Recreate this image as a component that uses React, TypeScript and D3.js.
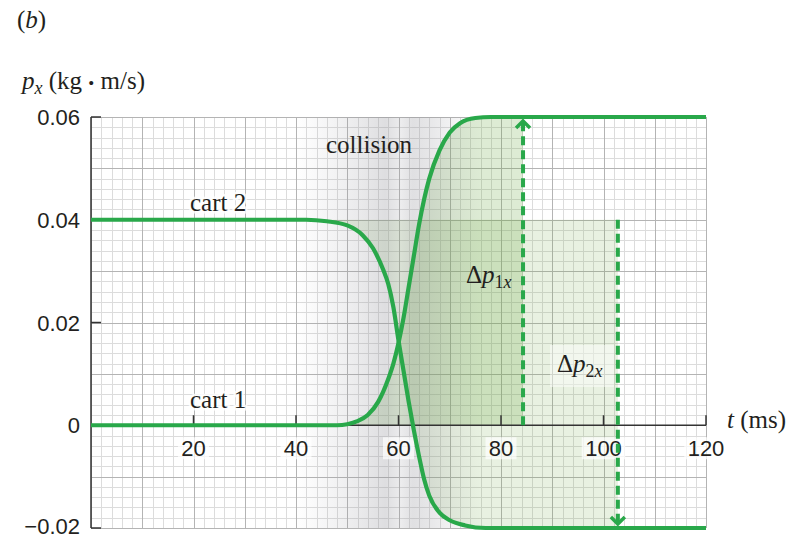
import React from 'react';
import * as d3 from 'd3';

// Axis ticks and labels
const timeTicks = [20, 40, 60, 80, 100, 120];
const timeTickLabels = ['20', '40', '60', '80', '100', '120'];
const momentumTicks = [-0.02, 0, 0.02, 0.04, 0.06];
const momentumTickLabels = ['\u22120.02', '0', '0.02', '0.04', '0.06'];

// Cart 1: momentum (kg·m/s) vs time (ms)
const cart1Time = [0, 48, 50, 52, 54, 56, 57, 58, 59, 60, 61, 62, 63, 64, 65, 66, 68, 70, 72, 75, 78, 120];
const cart1Momentum = [0, 0, 0.0002, 0.0008, 0.002, 0.0045, 0.0065, 0.009, 0.012, 0.016, 0.021, 0.027, 0.033, 0.039, 0.044, 0.048, 0.0535, 0.057, 0.0588, 0.0598, 0.06, 0.06];

// Cart 2: momentum (kg·m/s) vs time (ms)
const cart2Time = [0, 42, 46, 50, 53, 55, 57, 58, 59, 60, 61, 62, 63, 64, 65, 66, 68, 70, 73, 77, 120];
const cart2Momentum = [0.04, 0.04, 0.0397, 0.0389, 0.037, 0.0345, 0.0303, 0.0275, 0.023, 0.0165, 0.0105, 0.0045, -0.001, -0.006, -0.0105, -0.0137, -0.017, -0.0185, -0.0195, -0.02, -0.02];

// Momentum changes and where they are marked
const deltaP1Time = 84.3;
const deltaP1From = 0;
const deltaP1To = 0.06;
const deltaP2Time = 102.8;
const deltaP2From = 0.04;
const deltaP2To = -0.02;

const GREEN = '#29a84a';
const INK = '#231f20';
const SERIF = '"Liberation Serif", "DejaVu Serif", serif';
const SANS = '"Liberation Sans", Arial, sans-serif';

export default function App() {
  const width = 804;
  const height = 539;
  const x = d3.scaleLinear().domain([0, 120]).range([91, 706]);
  const y = d3.scaleLinear().domain([-0.02, 0.06]).range([528, 117]);

  const cart1 = cart1Time.map((t, i) => [t, cart1Momentum[i]] as [number, number]);
  const cart2 = cart2Time.map((t, i) => [t, cart2Momentum[i]] as [number, number]);

  const line = d3
    .line<[number, number]>()
    .x((d) => x(d[0]))
    .y((d) => y(d[1]))
    .curve(d3.curveMonotoneX);

  const area1 = d3
    .area<[number, number]>()
    .x((d) => x(d[0]))
    .y0(y(0))
    .y1((d) => y(d[1]))
    .curve(d3.curveMonotoneX);

  const area2 = d3
    .area<[number, number]>()
    .x((d) => x(d[0]))
    .y0(y(0.04))
    .y1((d) => y(d[1]))
    .curve(d3.curveMonotoneX);

  const minorT = d3.range(0, 120.001, 2);
  const majorT = d3.range(0, 120.001, 10);
  const minorP = d3.range(-0.02, 0.06001, 0.002);
  const majorP = d3.range(-0.02, 0.06001, 0.01);

  // horizontal shading of the collision interval
  const shadeStops: [number, number][] = [
    [40, 0],
    [47, 0.1],
    [53, 0.2],
    [57.5, 0.3],
    [60.5, 0.17],
    [62.8, 0.28],
    [66, 0.22],
    [71, 0.1],
    [76, 0],
  ];
  const shadeX0 = x(40);
  const shadeX1 = x(76);

  const plotLeft = x(0);
  const plotRight = x(120);
  const plotTop = y(0.06);
  const plotBottom = y(-0.02);
  const crisp = (v: number) => Math.round(v) + 0.5;

  const arrowUpX = x(deltaP1Time);
  const arrowUpTip = y(deltaP1To) + 4;
  const arrowDownX = x(deltaP2Time);
  const arrowDownTip = y(deltaP2To) - 4;

  return (
    <svg
      width={width}
      height={height}
      viewBox={`0 0 ${width} ${height}`}
      style={{ position: 'absolute', left: 0, top: 0, background: '#fff' }}
    >
      <defs>
        <linearGradient id="collisionShade" gradientUnits="userSpaceOnUse" x1={shadeX0} x2={shadeX1} y1={0} y2={0}>
          {shadeStops.map(([t, o], i) => (
            <stop
              key={i}
              offset={(x(t) - shadeX0) / (shadeX1 - shadeX0)}
              stopColor="#909098"
              stopOpacity={o}
            />
          ))}
        </linearGradient>
        <clipPath id="clipDp1">
          <rect x={plotLeft} y={plotTop} width={x(deltaP1Time) - plotLeft} height={plotBottom - plotTop} />
        </clipPath>
        <clipPath id="clipDp2">
          <rect x={plotLeft} y={plotTop} width={x(deltaP2Time) - plotLeft} height={plotBottom - plotTop} />
        </clipPath>
      </defs>

      <rect x={0} y={0} width={width} height={height} fill="#fff" />

      {/* grid */}
      <g>
        {minorT.map((t) => (
          <line key={'mt' + t} x1={crisp(x(t))} x2={crisp(x(t))} y1={plotTop} y2={plotBottom} stroke="#dcdcdc" strokeWidth={1} />
        ))}
        {minorP.map((p, i) => (
          <line key={'mp' + i} x1={plotLeft} x2={plotRight} y1={crisp(y(p))} y2={crisp(y(p))} stroke="#dcdcdc" strokeWidth={1} />
        ))}
        {majorT.map((t) => (
          <line key={'Mt' + t} x1={crisp(x(t))} x2={crisp(x(t))} y1={plotTop} y2={plotBottom} stroke="#b4b4b4" strokeWidth={1} />
        ))}
        {majorP.map((p, i) => (
          <line key={'Mp' + i} x1={plotLeft} x2={plotRight} y1={crisp(y(p))} y2={crisp(y(p))} stroke="#b4b4b4" strokeWidth={1} />
        ))}
      </g>

      {/* momentum change regions */}
      <path d={area2(cart2) ?? ''} fill="rgb(110,170,70)" fillOpacity={0.16} clipPath="url(#clipDp2)" />
      <path d={area1(cart1) ?? ''} fill="rgb(100,165,60)" fillOpacity={0.22} clipPath="url(#clipDp1)" />

      {/* collision band */}
      <rect x={shadeX0} y={plotTop} width={shadeX1 - shadeX0} height={plotBottom - plotTop} fill="url(#collisionShade)" />

      {/* axes */}
      <line x1={plotLeft} x2={plotLeft} y1={plotTop} y2={plotBottom} stroke="#333" strokeWidth={1.5} />
      <line x1={plotLeft} x2={plotRight} y1={y(0)} y2={y(0)} stroke="#333" strokeWidth={1.5} />
      {momentumTicks.map((p) => (
        <line key={'yt' + p} x1={plotLeft} x2={plotLeft + 10} y1={y(p)} y2={y(p)} stroke="#333" strokeWidth={1.5} />
      ))}
      {timeTicks.map((t) => (
        <line key={'xt' + t} x1={x(t)} x2={x(t)} y1={y(0)} y2={y(0) - 10} stroke="#333" strokeWidth={1.5} />
      ))}

      {/* tick labels */}
      {timeTicks.map((t, i) => {
        const w = timeTickLabels[i].length * 12.5 + 6;
        return (
          <g key={'xl' + t}>
            <rect x={x(t) - w / 2} y={y(0) + 12} width={w} height={22} fill="#fff" fillOpacity={0.7} />
            <text x={x(t)} y={y(0) + 31} textAnchor="middle" fontFamily={SANS} fontSize={22} fill={INK}>
              {timeTickLabels[i]}
            </text>
          </g>
        );
      })}
      {momentumTicks.map((p, i) => (
        <text key={'yl' + p} x={80} y={y(p) + (p < 0 ? 6 : 8)} textAnchor="end" fontFamily={SANS} fontSize={22} fill={INK}>
          {momentumTickLabels[i]}
        </text>
      ))}

      {/* dashed arrows for momentum changes */}
      <line
        x1={arrowUpX}
        x2={arrowUpX}
        y1={y(deltaP1From)}
        y2={arrowUpTip + 2}
        stroke={GREEN}
        strokeWidth={4}
        strokeDasharray="9 5"
      />
      <polyline
        points={`${arrowUpX - 7},${arrowUpTip + 7} ${arrowUpX},${arrowUpTip} ${arrowUpX + 7},${arrowUpTip + 7}`}
        fill="none"
        stroke={GREEN}
        strokeWidth={3.5}
      />
      <line
        x1={arrowDownX}
        x2={arrowDownX}
        y1={y(deltaP2From)}
        y2={arrowDownTip - 2}
        stroke={GREEN}
        strokeWidth={4}
        strokeDasharray="9 5"
      />
      <polyline
        points={`${arrowDownX - 7},${arrowDownTip - 7} ${arrowDownX},${arrowDownTip} ${arrowDownX + 7},${arrowDownTip - 7}`}
        fill="none"
        stroke={GREEN}
        strokeWidth={3.5}
      />

      {/* momentum curves */}
      <path d={line(cart2) ?? ''} fill="none" stroke={GREEN} strokeWidth={4.2} strokeLinejoin="round" />
      <path d={line(cart1) ?? ''} fill="none" stroke={GREEN} strokeWidth={4.2} strokeLinejoin="round" />

      {/* labels */}
      <text x={17} y={28} fontFamily={SERIF} fontSize={25} fill={INK}>
        (<tspan fontStyle="italic">b</tspan>)
      </text>
      <text x={22} y={89} fontFamily={SERIF} fontSize={25} fill={INK}>
        <tspan fontStyle="italic">p</tspan>
        <tspan fontStyle="italic" fontSize={18} dy={5}>x</tspan>
        <tspan dy={-5}> (kg </tspan>
        <tspan fontSize={17}>•</tspan>
        <tspan> m/s)</tspan>
      </text>
      <text x={727} y={428} fontFamily={SERIF} fontSize={25} fill={INK}>
        <tspan fontStyle="italic">t</tspan> (ms)
      </text>
      <text x={326} y={153} fontFamily={SERIF} fontSize={25} fill={INK}>
        collision
      </text>
      <text x={190} y={211} fontFamily={SERIF} fontSize={25} fill={INK} stroke="#fff" strokeWidth={5} strokeOpacity={0.8} paintOrder="stroke">
        cart 2
      </text>
      <text x={190} y={408} fontFamily={SERIF} fontSize={25} fill={INK} stroke="#fff" strokeWidth={5} strokeOpacity={0.8} paintOrder="stroke">
        cart 1
      </text>
      <text x={466} y={283} fontFamily={SERIF} fontSize={25} fill={INK}>
        Δ<tspan fontStyle="italic">p</tspan>
        <tspan fontSize={18} dy={5}>1</tspan>
        <tspan fontSize={18} fontStyle="italic">x</tspan>
      </text>
      <rect x={550} y={345} width={64} height={42} fill="#fff" fillOpacity={0.45} />
      <text x={557} y={372} fontFamily={SERIF} fontSize={25} fill={INK}>
        Δ<tspan fontStyle="italic">p</tspan>
        <tspan fontSize={18} dy={5}>2</tspan>
        <tspan fontSize={18} fontStyle="italic">x</tspan>
      </text>
    </svg>
  );
}
